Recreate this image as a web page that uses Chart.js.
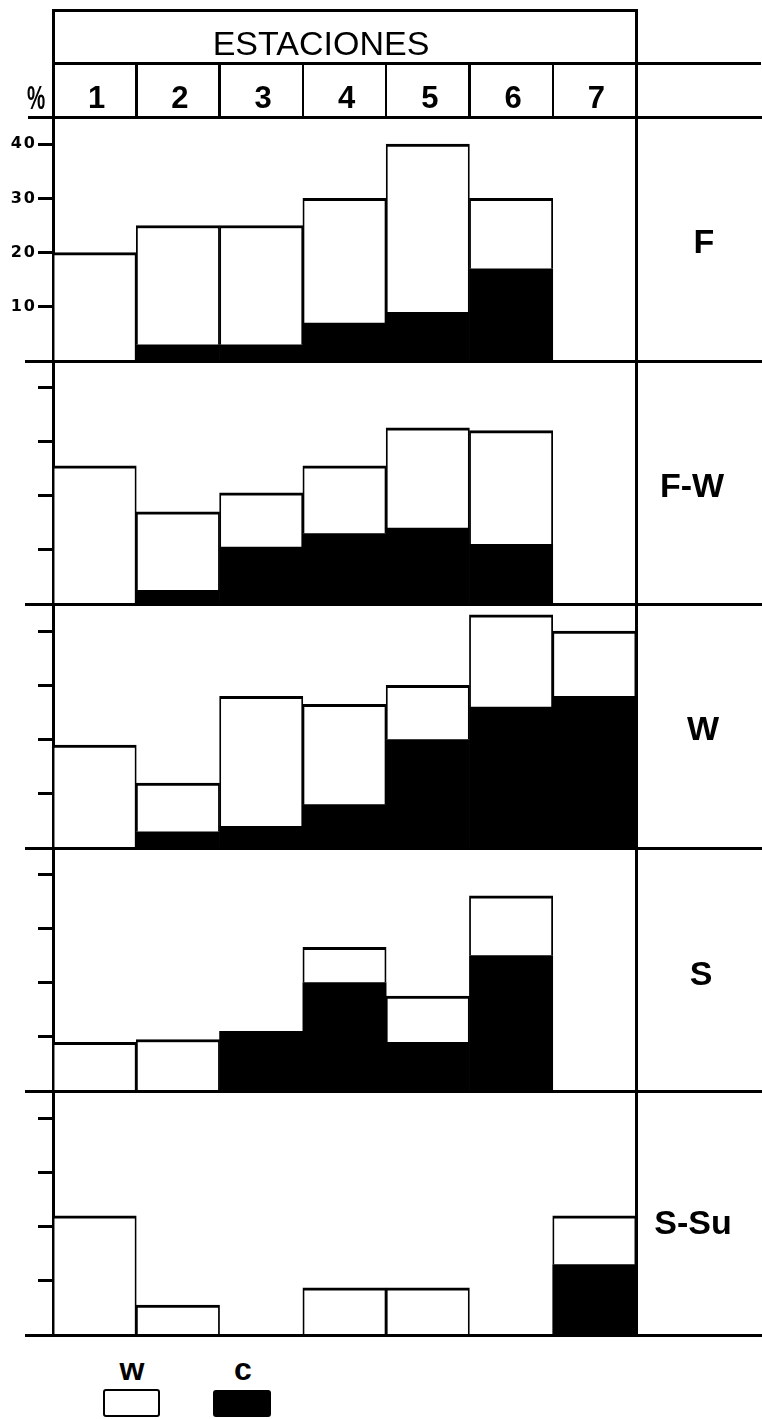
<!DOCTYPE html>
<html>
<head>
<meta charset="utf-8">
<script src="https://cdn.jsdelivr.net/npm/chart.js@4.4.1/dist/chart.umd.min.js"></script>
<style>
  html, body { margin: 0; padding: 0; background: #fff; }
  #page { position: relative; width: 762px; height: 1419px; overflow: hidden;
          font-family: "Liberation Sans", Arial, sans-serif; color: #000; }
  .ln { position: absolute; background: #000; }
  .txt { position: absolute; text-align: center; white-space: nowrap; }
  canvas { position: absolute; left: 0; }
  .key { position: absolute; box-sizing: border-box; border: 2.5px solid #000; border-radius: 3px; }
</style>
</head>
<body>
<div id="page"></div>
<script>
// stations along the top
const stations = ['1', '2', '3', '4', '5', '6', '7'];
const panelNames = ['F', 'F-W', 'W', 'S', 'S-Su'];
const yTicks = [10, 20, 30, 40];

// c = black part (bottom), w = white part stacked on top, in %
const cF   = [null, 3, 3, 7, 9, 17, null];
const wF   = [20, 22, 22, 23, 31, 13, null];
const cFW  = [null, 2.5, 10.5, 13, 14, 11, null];
const wFW  = [25.5, 14.5, 10, 12.5, 18.5, 21, null];
const cW   = [null, 3, 4, 8, 20, 26, 28];
const wW   = [19, 9, 24, 18.5, 10, 17, 12];
const cS   = [null, null, 11, 20, 9, 25, null];
const wS   = [9, 9.5, null, 6.5, 8.5, 11, null];
const cSSu = [null, null, null, null, null, null, 13];
const wSSu = [22, 5.5, null, 8.7, 8.7, null, 9];

const panels = [
    { c: cF, w: wF, labels: true },
    { c: cFW, w: wFW, labels: false },
    { c: cW, w: wW, labels: false },
    { c: cS, w: wS, labels: false },
    { c: cSSu, w: wSSu, labels: false }
];

// layout (px)
const AX_L = 53, AX_R = 636, TOP0 = 117, PANEL_H = 243.6, PX_PER_UNIT = 5.42;
const colW = (AX_R - AX_L) / stations.length;
const page = document.getElementById('page');

function line(x, y, w, h) {
    const d = document.createElement('div');
    d.className = 'ln';
    d.style.left = x + 'px'; d.style.top = y + 'px';
    d.style.width = w + 'px'; d.style.height = h + 'px';
    page.appendChild(d);
}

function text(str, cx, cy, size, weight, extra) {
    const d = document.createElement('div');
    d.className = 'txt';
    d.textContent = str;
    d.style.left = (cx - 150) + 'px';
    d.style.width = '300px';
    d.style.top = (cy - 0.488 * size) + 'px';
    d.style.fontSize = size + 'px';
    d.style.lineHeight = size + 'px';
    d.style.fontWeight = weight;
    if (extra) Object.assign(d.style, extra);
    page.appendChild(d);
    return d;
}

// letter spacing for the tick numbers
const spacing = {
    id: 'spacing',
    beforeDraw(chart) { chart.ctx.letterSpacing = '2px'; }
};

const tops = [];
for (let i = 0; i <= panels.length; i++) tops.push(Math.round(TOP0 + i * PANEL_H));

panels.forEach((p, i) => {
    const h = tops[i + 1] - tops[i];
    const cv = document.createElement('canvas');
    cv.width = 640;
    cv.height = h;
    cv.style.top = tops[i] + 'px';
    page.appendChild(cv);

    new Chart(cv, {
        type: 'bar',
        data: {
            labels: stations,
            datasets: [
                {
                    label: 'c',
                    data: p.c,
                    backgroundColor: '#000',
                    borderWidth: 0,
                    barPercentage: 1,
                    categoryPercentage: 1
                },
                {
                    label: 'w',
                    data: p.w,
                    backgroundColor: '#fff',
                    borderColor: '#000',
                    borderWidth: { top: 3, left: 1.8, right: 1.8, bottom: 0 },
                    barPercentage: 1,
                    categoryPercentage: 1
                }
            ]
        },
        options: {
            responsive: false,
            animation: false,
            layout: { padding: { left: 0, right: 640 - AX_R, top: 0, bottom: 0 } },
            plugins: { legend: { display: false }, tooltip: { enabled: false } },
            scales: {
                x: { display: false, stacked: true },
                y: {
                    stacked: true,
                    min: 0,
                    max: h / PX_PER_UNIT,
                    afterBuildTicks: (s) => { s.ticks = yTicks.map((v) => ({ value: v })); },
                    afterFit: (s) => { s.width = AX_L; s.paddingTop = 0; s.paddingBottom = 0; },
                    border: { display: true, color: '#000', width: 3 },
                    grid: {
                        drawOnChartArea: false,
                        drawTicks: true,
                        tickLength: 15,
                        tickWidth: 3,
                        tickColor: '#000',
                        color: '#000',
                        lineWidth: 3
                    },
                    ticks: {
                        display: p.labels,
                        padding: 1,
                        color: '#000',
                        font: { family: 'DejaVu Sans', size: 16, weight: 'bold' }
                    }
                }
            }
        },
        plugins: [spacing]
    });
});

// frame: header box, panel separators, right border
line(AX_L - 1.5, 8.5, AX_R - AX_L + 3, 3);
line(AX_L - 1.5, 61.5, 762 - AX_L, 3);
line(28, TOP0 - 1.5, 762 - 28, 3);
line(AX_L - 1.5, 8.5, 3, TOP0 - 8.5);
for (let k = 1; k < stations.length; k++) {
    line(AX_L + colW * k - 1.2, 62, 2.5, TOP0 - 62);
}
for (let i = 1; i <= panels.length; i++) {
    line(25, tops[i] - 1.5, 762 - 25, 3);
}
line(AX_R - 1.5, 8.5, 3, tops[panels.length] - 7);

// header text
text('ESTACIONES', 321, 42.5, 34, 'normal');
stations.forEach((s, k) => {
    text(s, AX_L + colW * (k + 0.5) + 2, 96.7, 31, 'bold');
});
text('%', 36, 97, 33, 'bold', { transform: 'scaleX(0.62)' });

// panel names on the right
const nameX = [704, 692, 703, 701, 693];
const nameDy = [2, 2, 2, 3, 9];
panelNames.forEach((n, i) => {
    text(n, nameX[i], (tops[i] + tops[i + 1]) / 2 + nameDy[i], 34, 'bold');
});

// legend
text('w', 132, 1371.5 - 0.1 * 32, 32, 'bold');
text('c', 243, 1371.5 - 0.1 * 32, 32, 'bold');
const kw = document.createElement('div');
kw.className = 'key';
Object.assign(kw.style, { left: '103px', top: '1389px', width: '57px', height: '28px', background: '#fff' });
page.appendChild(kw);
const kc = document.createElement('div');
kc.className = 'key';
Object.assign(kc.style, { left: '213px', top: '1390px', width: '58px', height: '27px', background: '#000' });
page.appendChild(kc);
</script>
</body>
</html>
